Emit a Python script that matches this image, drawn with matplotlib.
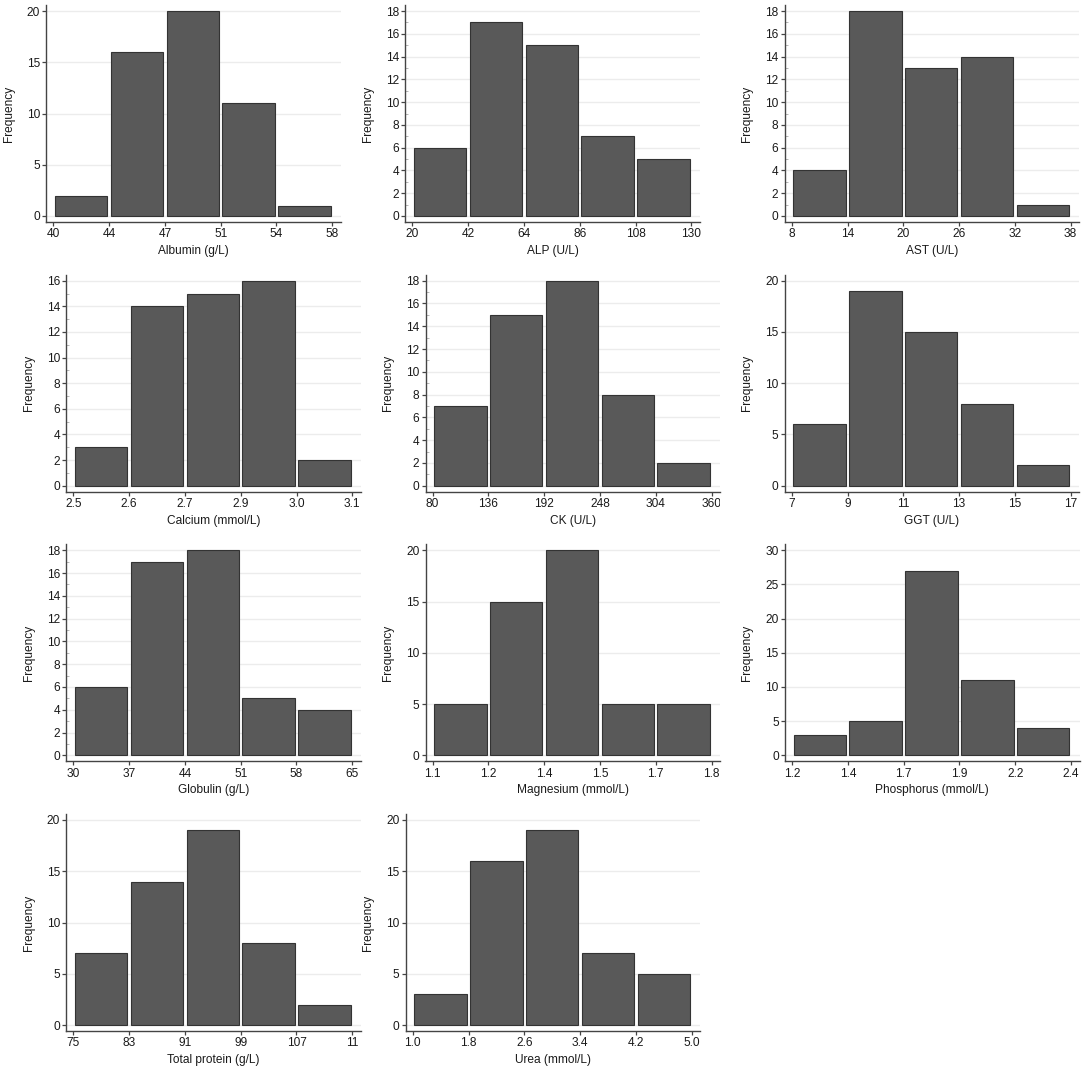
"""
Histograms of serum biochemistry values (Stata-like look), 4x3 grid.
"""
import matplotlib
matplotlib.use("Agg")
import matplotlib.pyplot as plt
import numpy as np
from matplotlib.transforms import Bbox, TransformedBbox

plt.rcParams["font.family"] = ["Liberation Sans", "DejaVu Sans"]

W, H = 1084, 1070

# ── data ─────────────────────────────────────────────────────────────────────
names = ["Albumin (g/L)", "ALP (U/L)", "AST (U/L)",
         "Calcium (mmol/L)", "CK (U/L)", "GGT (U/L)",
         "Globulin (g/L)", "Magnesium (mmol/L)", "Phosphorus (mmol/L)",
         "Total protein (g/L)", "Urea (mmol/L)"]

albumin_edges = [40, 43.6, 47.2, 50.8, 54.4, 58]
alp_edges = [20, 42, 64, 86, 108, 130]
ast_edges = [8, 14, 20, 26, 32, 38]
calcium_edges = [2.5, 2.62, 2.74, 2.86, 2.98, 3.1]
ck_edges = [80, 136, 192, 248, 304, 360]
ggt_edges = [7, 9, 11, 13, 15, 17]
globulin_edges = [30, 37, 44, 51, 58, 65]
magnesium_edges = [1.1, 1.24, 1.38, 1.52, 1.66, 1.8]
phosphorus_edges = [1.2, 1.44, 1.68, 1.92, 2.16, 2.4]
protein_edges = [75, 83, 91, 99, 107, 115]
urea_edges = [1.0, 1.8, 2.6, 3.4, 4.2, 5.0]

albumin_labels = ["40", "44", "47", "51", "54", "58"]
alp_labels = ["20", "42", "64", "86", "108", "130"]
ast_labels = ["8", "14", "20", "26", "32", "38"]
calcium_labels = ["2.5", "2.6", "2.7", "2.9", "3.0", "3.1"]
ck_labels = ["80", "136", "192", "248", "304", "360"]
ggt_labels = ["7", "9", "11", "13", "15", "17"]
globulin_labels = ["30", "37", "44", "51", "58", "65"]
magnesium_labels = ["1.1", "1.2", "1.4", "1.5", "1.7", "1.8"]
phosphorus_labels = ["1.2", "1.4", "1.7", "1.9", "2.2", "2.4"]
protein_labels = ["75", "83", "91", "99", "107", "11"]
urea_labels = ["1.0", "1.8", "2.6", "3.4", "4.2", "5.0"]

albumin_counts = [2, 16, 20, 11, 1]
alp_counts = [6, 17, 15, 7, 5]
ast_counts = [4, 18, 13, 14, 1]
calcium_counts = [3, 14, 15, 16, 2]
ck_counts = [7, 15, 18, 8, 2]
ggt_counts = [6, 19, 15, 8, 2]
globulin_counts = [6, 17, 18, 5, 4]
magnesium_counts = [5, 15, 20, 5, 5]
phosphorus_counts = [3, 5, 27, 11, 4]
protein_counts = [7, 14, 19, 8, 2]
urea_counts = [3, 16, 19, 7, 5]

y_max = [20, 18, 18, 16, 18, 20, 18, 20, 30, 20, 20]
y_step = [5, 2, 2, 2, 2, 5, 2, 5, 5, 5, 5]

edges = [albumin_edges, alp_edges, ast_edges, calcium_edges, ck_edges,
         ggt_edges, globulin_edges, magnesium_edges, phosphorus_edges,
         protein_edges, urea_edges]
labels = [albumin_labels, alp_labels, ast_labels, calcium_labels, ck_labels,
          ggt_labels, globulin_labels, magnesium_labels, phosphorus_labels,
          protein_labels, urea_labels]
counts = [albumin_counts, alp_counts, ast_counts, calcium_counts, ck_counts,
          ggt_counts, globulin_counts, magnesium_counts, phosphorus_counts,
          protein_counts, urea_counts]

# ── layout (pixels): first bin edge x, zero-line y, column clip range ────────
layout = [
    (53.3, 216.0, 0, 360), (412.3, 216.0, 360, 720), (791.7, 216.0, 720, 1084),
    (73.3, 485.7, 0, 360), (432.5, 485.7, 360, 720), (791.7, 485.7, 720, 1084),
    (73.3, 755.3, 0, 360), (432.5, 755.3, 360, 720), (792.0, 755.3, 720, 1084),
    (73.3, 1025.0, 0, 360), (412.7, 1025.0, 360, 720),
]
SPAN_X, SPAN_Y = 279.0, 205.0
PAD_L, PAD_R, PAD_Y = 7.0, 8.5, 6.0

BAR = "#595959"
BAR_EDGE = "#333333"
AXIS = "#444444"
GRID = "#ececec"
TXT = "#1a1a1a"
FS = 8.6

fig = plt.figure(figsize=(W / 100, H / 100), dpi=100)
fig.patch.set_facecolor("white")

for i in range(len(names)):
    ex0, y0, cx0, cx1 = layout[i]
    left = ex0 - PAD_L
    right = ex0 + SPAN_X + PAD_R
    top = y0 - SPAN_Y - PAD_Y
    bottom = y0 + PAD_Y
    axw, axh = right - left, bottom - top
    ax = fig.add_axes([left / W, 1 - bottom / H, axw / W, axh / H])

    e = np.array(edges[i], dtype=float)
    sx = SPAN_X / (e[-1] - e[0])
    sy = SPAN_Y / y_max[i]
    binw = e[1] - e[0]
    centers = (e[:-1] + e[1:]) / 2

    ax.bar(centers, counts[i], width=binw * 0.94, color=BAR,
           edgecolor=BAR_EDGE, linewidth=0.8, zorder=3)

    ax.set_xlim(e[0] - PAD_L / sx, e[-1] + PAD_R / sx)
    ax.set_ylim(-PAD_Y / sy, y_max[i] + PAD_Y / sy)

    ax.set_xticks(e)
    ax.set_xticklabels(labels[i])
    ax.set_yticks(np.arange(0, y_max[i] + 1, y_step[i]))
    if y_step[i] == 2:
        ax.set_yticks(np.arange(1, y_max[i], 2), minor=True)
        ax.tick_params(axis="y", which="minor", direction="in", length=2,
                       width=0.7, color="#b5b5b5")

    ax.yaxis.grid(True, color=GRID, linewidth=1.0, zorder=0)
    ax.set_axisbelow(True)

    for s in ("top", "right"):
        ax.spines[s].set_visible(False)
    for s in ("left", "bottom"):
        ax.spines[s].set_color(AXIS)
        ax.spines[s].set_linewidth(1.0)

    ax.tick_params(axis="both", which="major", length=3, width=0.9,
                   color=AXIS, labelsize=FS, labelcolor=TXT, pad=1.5)

    ax.set_xlabel(names[i], fontsize=FS, color=TXT, va="top")
    ax.xaxis.set_label_coords(0.5, -23.0 / axh)
    ax.set_ylabel("Frequency", fontsize=FS, color=TXT)
    ax.yaxis.set_label_coords(-31.7 / axw, 0.5)

    # tick labels cut at the panel's column boundary, like the source image
    clip = TransformedBbox(Bbox.from_extents(cx0 / W, 0, cx1 / W, 1),
                           fig.transFigure)
    for t in ax.get_xticklabels():
        t.set_clip_on(True)
        t.set_clip_box(clip)

fig.savefig("out.png", dpi=100, facecolor="white")
plt.close(fig)
